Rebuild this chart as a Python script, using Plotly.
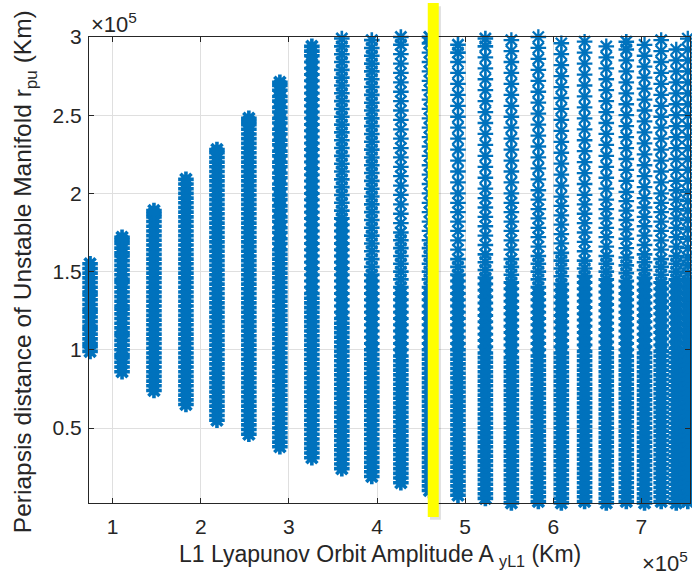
import plotly.graph_objects as go

# Column positions: L1 Lyapunov orbit amplitude A_yL1 (km)
amplitude_km = [74300, 110600, 146800, 183100, 218300, 254500, 289700, 326000,
                360000, 394000, 427000, 459500, 491800, 522900, 552400, 583000,
                609100, 635500, 660100, 682800, 703500, 722400, 739500, 752600]

# Periapsis distances for each column (thousand km)
c01 = [99, 102, 104, 107, 110, 113, 115, 118, 121, 124, 126, 129, 132, 135, 137, 140, 143, 146, 149, 152, 155]
c02 = [86, 89, 92, 95, 97, 100, 103, 106, 109, 111, 114, 117, 120, 123, 126, 128, 131, 134, 137, 140, 143, 145, 148,
       151, 154, 157, 160, 162, 165, 168, 170, 172]
c03 = [74, 77, 80, 83, 86, 89, 92, 95, 98, 101, 104, 107, 110, 113, 116, 119, 122, 125, 128, 131, 134, 137, 140, 143,
       146, 149, 152, 155, 158, 161, 164, 167, 170, 173, 176, 179, 182, 185, 187, 189]
c04 = [65, 68, 71, 74, 77, 80, 83, 86, 89, 92, 95, 98, 101, 104, 107, 110, 113, 116, 119, 122, 125, 128, 131, 134, 137,
       140, 143, 146, 149, 152, 155, 158, 161, 164, 167, 170, 173, 176, 179, 182, 185, 188, 191, 194, 197, 200, 203, 206, 209]
c05 = [55, 58, 61, 64, 67, 70, 73, 76, 79, 82, 85, 88, 91, 94, 97, 100, 103, 106, 109, 112, 115, 118, 121, 124, 127, 130,
       133, 136, 139, 142, 145, 148, 151, 154, 157, 160, 163, 166, 169, 172, 175, 178, 181, 184, 187, 190, 193, 196, 199,
       202, 205, 208, 211, 214, 217, 220, 223, 226, 228]
c06 = [46, 49, 52, 55, 58, 61, 64, 67, 70, 73, 76, 79, 82, 85, 88, 91, 94, 97, 100, 103, 106, 109, 112, 115, 118, 121,
       124, 127, 130, 133, 136, 139, 142, 145, 148, 151, 154, 157, 160, 163, 166, 169, 172, 175, 178, 181, 184, 187, 190,
       193, 196, 199, 202, 205, 208, 211, 214, 217, 220, 223, 226, 229, 232, 235, 238, 241, 244, 246, 248]
c07 = [38, 41, 44, 47, 50, 53, 56, 59, 62, 65, 68, 71, 74, 77, 80, 83, 86, 89, 92, 95, 98, 101, 104, 107, 110, 113, 116,
       119, 122, 125, 128, 131, 134, 137, 140, 143, 146, 149, 152, 155, 158, 161, 164, 168, 171, 175, 178, 182, 185, 189,
       192, 196, 199, 203, 206, 210, 213, 217, 220, 224, 227, 231, 234, 238, 241, 245, 248, 252, 255, 259, 262, 266, 269, 271]
c08 = [31, 34, 37, 40, 43, 46, 49, 52, 55, 58, 61, 64, 67, 70, 73, 76, 79, 82, 85, 88, 91, 94, 97, 100, 103, 106, 109,
       112, 115, 118, 121, 124, 127, 130, 133, 136, 140, 144, 148, 152, 156, 160, 164, 168, 172, 176, 180, 184, 188, 192,
       196, 200, 204, 208, 212, 216, 220, 224, 228, 232, 236, 240, 244, 248, 252, 256, 260, 264, 268, 272, 276, 280, 284,
       288, 291, 294]
c09 = [24, 27, 30, 33, 36, 39, 42, 45, 48, 51, 54, 57, 60, 63, 66, 69, 72, 75, 78, 81, 84, 87, 90, 93, 96, 99, 102, 105,
       108, 111, 114, 117, 120, 124, 128, 132, 136, 140, 144, 148, 152, 156, 160, 164, 168, 172, 176, 180, 184, 189, 194,
       199, 204, 209, 214, 219, 224, 229, 234, 239, 244, 249, 254, 259, 264, 269, 274, 279, 284, 289, 294, 299]
c10 = [19, 22, 25, 28, 31, 34, 37, 40, 43, 46, 49, 52, 55, 58, 61, 64, 67, 70, 73, 76, 79, 82, 85, 88, 91, 94, 97, 100,
       104, 108, 112, 116, 120, 124, 128, 132, 136, 140, 144, 148, 153, 158, 163, 168, 173, 178, 183, 188, 193, 198, 203,
       208, 213, 218, 223, 228, 233, 238, 243, 248, 253, 258, 263, 268, 273, 278, 283, 288, 293, 298]
c11 = [15, 18, 21, 24, 27, 30, 33, 36, 39, 42, 45, 48, 51, 54, 57, 60, 63, 66, 69, 72, 75, 78, 81, 84, 87, 90, 93, 96,
       100, 104, 108, 112, 116, 120, 124, 128, 132, 136, 140, 145, 150, 155, 160, 165, 170, 175, 181, 187, 193, 199, 205,
       211, 217, 223, 229, 235, 241, 247, 253, 259, 265, 271, 277, 283, 289, 295, 300]
c12 = [10, 13, 16, 19, 22, 25, 28, 31, 34, 37, 40, 43, 46, 49, 52, 55, 58, 61, 64, 67, 70, 73, 76, 79, 82, 85, 88, 91,
       94, 97, 100, 104, 108, 112, 116, 120, 124, 128, 132, 136, 140, 145, 150, 155, 160, 165, 170, 176, 182, 188, 194,
       200, 206, 212, 218, 224, 230, 236, 242, 248, 254, 260, 266, 272, 278, 284, 290, 296, 300]
c13 = [7, 10, 13, 16, 19, 22, 25, 28, 31, 34, 37, 40, 43, 46, 49, 52, 55, 58, 61, 64, 67, 70, 73, 76, 79, 82, 85, 88, 91,
       94, 97, 100, 104, 108, 112, 116, 120, 124, 128, 132, 136, 140, 144, 148, 153, 158, 164, 170, 176, 182, 188, 194,
       200, 207, 214, 221, 228, 235, 242, 249, 256, 263, 270, 277, 284, 290, 295]
c14 = [5, 8, 11, 14, 17, 20, 23, 26, 29, 32, 35, 38, 41, 44, 47, 50, 53, 56, 59, 62, 65, 68, 71, 74, 77, 80, 83, 86, 89,
       92, 95, 98, 102, 106, 110, 114, 118, 122, 126, 130, 134, 138, 142, 146, 151, 156, 161, 167, 173, 179, 185, 191,
       197, 203, 210, 217, 224, 231, 238, 245, 252, 259, 266, 273, 280, 287, 294, 299]
c15 = [2, 5, 8, 11, 14, 17, 20, 23, 26, 29, 32, 35, 38, 41, 44, 47, 50, 53, 56, 59, 62, 65, 68, 71, 74, 77, 80, 83, 86,
       89, 92, 95, 99, 103, 107, 111, 115, 119, 123, 127, 131, 135, 139, 143, 148, 153, 158, 164, 170, 176, 182, 188,
       194, 200, 207, 214, 221, 228, 235, 242, 249, 256, 263, 270, 277, 284, 291, 298]
c16 = [3, 6, 9, 12, 15, 18, 21, 24, 27, 30, 33, 36, 39, 42, 45, 48, 51, 54, 57, 60, 63, 66, 69, 72, 75, 78, 81, 84, 87,
       90, 93, 96, 100, 104, 108, 112, 116, 120, 124, 128, 132, 136, 140, 145, 150, 155, 160, 166, 172, 178, 184, 190,
       196, 202, 209, 216, 223, 230, 237, 244, 251, 258, 265, 272, 279, 286, 293, 300]
c17 = [2, 5, 8, 11, 14, 17, 20, 23, 26, 29, 32, 35, 38, 41, 44, 47, 50, 53, 56, 59, 62, 65, 68, 71, 74, 77, 80, 83, 86,
       89, 92, 95, 98, 102, 106, 110, 114, 118, 122, 126, 130, 134, 138, 142, 147, 152, 157, 162, 168, 174, 180, 186,
       192, 198, 205, 212, 219, 226, 233, 240, 247, 254, 261, 268, 275, 282, 289, 296]
c18 = [3, 6, 9, 12, 15, 18, 21, 24, 27, 30, 33, 36, 39, 42, 45, 48, 51, 54, 57, 60, 63, 66, 69, 72, 75, 78, 81, 84, 87,
       90, 93, 96, 99, 103, 107, 111, 115, 119, 123, 127, 131, 135, 139, 143, 147, 152, 157, 163, 169, 175, 181, 187,
       193, 199, 206, 213, 220, 227, 234, 241, 248, 255, 262, 269, 276, 283, 290, 297]
c19 = [2, 5, 8, 11, 14, 17, 20, 23, 26, 29, 32, 35, 38, 41, 44, 47, 50, 53, 56, 59, 62, 65, 68, 71, 74, 77, 80, 83, 86,
       89, 92, 95, 98, 101, 105, 109, 113, 117, 121, 125, 129, 133, 137, 141, 145, 150, 155, 160, 166, 172, 178, 184,
       190, 196, 203, 210, 217, 224, 231, 238, 245, 252, 259, 266, 273, 280, 287, 294]
c20 = [3, 6, 9, 12, 15, 18, 21, 24, 27, 30, 33, 36, 39, 42, 45, 48, 51, 54, 57, 60, 63, 66, 69, 72, 75, 78, 81, 84, 87,
       90, 93, 96, 100, 104, 108, 112, 116, 120, 124, 128, 132, 136, 140, 144, 149, 154, 159, 165, 171, 177, 183, 189,
       195, 201, 208, 215, 222, 229, 236, 243, 250, 257, 264, 271, 278, 285, 292, 297]
c21 = [2, 5, 8, 11, 14, 17, 20, 23, 26, 29, 32, 35, 38, 41, 44, 47, 50, 53, 56, 59, 62, 65, 68, 71, 74, 77, 80, 83, 86,
       89, 92, 95, 98, 102, 106, 110, 114, 118, 122, 126, 130, 134, 138, 142, 146, 151, 156, 161, 167, 173, 179, 185,
       191, 197, 204, 211, 218, 225, 232, 239, 246, 253, 260, 267, 274, 281, 288, 295]
c22 = [3, 6, 9, 12, 15, 18, 21, 24, 27, 30, 33, 36, 39, 42, 45, 48, 51, 54, 57, 60, 63, 66, 69, 72, 75, 78, 81, 84, 87,
       90, 93, 96, 99, 103, 107, 111, 115, 119, 123, 127, 131, 135, 139, 143, 148, 153, 158, 164, 170, 176, 182, 188,
       194, 200, 207, 214, 221, 228, 235, 242, 249, 256, 263, 270, 277, 284, 291, 298]
c23 = [2, 5, 8, 11, 14, 17, 20, 23, 26, 29, 32, 35, 38, 41, 44, 47, 50, 53, 56, 59, 62, 65, 68, 71, 74, 77, 80, 83, 86,
       89, 92, 95, 98, 101, 105, 109, 113, 117, 121, 125, 129, 133, 137, 141, 145, 150, 155, 160, 166, 172, 178, 184,
       190, 196, 202, 208, 215, 222, 229, 236, 243, 250, 257, 264, 271, 278, 285, 292]
c24 = [3, 6, 9, 12, 15, 18, 21, 24, 27, 30, 33, 36, 39, 42, 45, 48, 51, 54, 57, 60, 63, 66, 69, 72, 75, 78, 81, 84, 87,
       90, 93, 96, 100, 104, 108, 112, 116, 120, 124, 128, 132, 136, 140, 144, 149, 154, 159, 165, 171, 177, 183, 189,
       195, 201, 208, 215, 222, 229, 236, 243, 250, 257, 264, 271, 278, 285, 292, 299]

columns = [c01, c02, c03, c04, c05, c06, c07, c08, c09, c10, c11, c12,
           c13, c14, c15, c16, c17, c18, c19, c20, c21, c22, c23, c24]

x_tick_vals = [100000, 200000, 300000, 400000, 500000, 600000, 700000]
x_tick_text = ["1", "2", "3", "4", "5", "6", "7"]
y_tick_vals = [50000, 100000, 150000, 200000, 250000, 300000]
y_tick_text = ["0.5", "1", "1.5", "2", "2.5", "3"]

highlight_amp_km = [457500, 470000]  # yellow marker band

# Build points; marker stroke is heavier where points are packed tightly
xs, ys, widths = [], [], []
for amp, col in zip(amplitude_km, columns):
    for i, v in enumerate(col):
        xs.append(amp)
        ys.append(max(v, 2.1) * 1000)
        gaps = []
        if i > 0:
            gaps.append(v - col[i - 1])
        if i < len(col) - 1:
            gaps.append(col[i + 1] - v)
        g = min(gaps)
        widths.append(3.6 if g <= 3 else (3.0 if g <= 4 else (2.6 if g <= 5 else 2.3)))

BLUE = "#0072BD"
AX = "#262626"
FONT = "Liberation Sans, Arial, sans-serif"

fig = go.Figure()
fig.add_trace(go.Scatter(
    x=xs, y=ys, mode="markers",
    marker=dict(symbol="asterisk-open", size=13, color=BLUE,
                line=dict(color=BLUE, width=widths)),
    cliponaxis=False, showlegend=False, hoverinfo="skip"))

axis_common = dict(
    showline=True, linecolor=AX, linewidth=1, mirror="allticks",
    ticks="inside", ticklen=5, tickwidth=1.3, tickcolor=AX,
    showgrid=True, gridcolor="#dfdfdf", gridwidth=1, zeroline=False,
    tickfont=dict(family=FONT, size=21, color=AX),
)

fig.update_layout(
    width=692, height=579,
    margin=dict(l=89, r=2, t=37, b=76, autoexpand=False),
    paper_bgcolor="white", plot_bgcolor="white",
    font=dict(family=FONT, color=AX),
    xaxis=dict(range=[73100, 755100], tickvals=x_tick_vals, ticktext=x_tick_text,
               ticklabelstandoff=5, **axis_common),
    yaxis=dict(range=[2050, 300000], tickvals=y_tick_vals, ticktext=y_tick_text,
               ticklabelstandoff=2, **axis_common),
    shapes=[
        dict(type="rect", xref="x", yref="paper", x0=highlight_amp_km[0] + 2500, x1=highlight_amp_km[1] + 2500,
             y0=-0.036, y1=1.066, fillcolor="rgba(0,0,0,0.12)", line=dict(width=0), layer="above"),
        dict(type="rect", xref="x", yref="paper", x0=highlight_amp_km[0], x1=highlight_amp_km[1],
             y0=-0.030, y1=1.073, fillcolor="#FFFF00", line=dict(width=0), layer="above"),
    ],
    annotations=[
        dict(text="×10<sup>5</sup>", xref="paper", yref="paper", x=0, y=1, xanchor="left", yanchor="bottom",
             yshift=-2, showarrow=False, font=dict(family=FONT, size=22, color=AX)),
        dict(text="×10<sup>5</sup>", xref="paper", yref="paper", x=1, y=-0.126, xanchor="right", yanchor="middle",
             showarrow=False, font=dict(family=FONT, size=22, color=AX)),
        dict(text="L1 Lyapunov Orbit Amplitude A <sub>yL1</sub> (Km)", xref="paper", yref="paper",
             x=0.485, y=-0.078, xanchor="center", yanchor="top", showarrow=False,
             font=dict(family=FONT, size=23, color=AX)),
        dict(text="Periapsis distance of Unstable Manifold r<sub>pu</sub> (Km)", xref="paper", yref="paper",
             x=-0.106, y=0.496, xanchor="center", yanchor="middle", textangle=-90, showarrow=False,
             font=dict(family=FONT, size=24.5, color=AX)),
    ],
)

fig.write_html("out.html")
